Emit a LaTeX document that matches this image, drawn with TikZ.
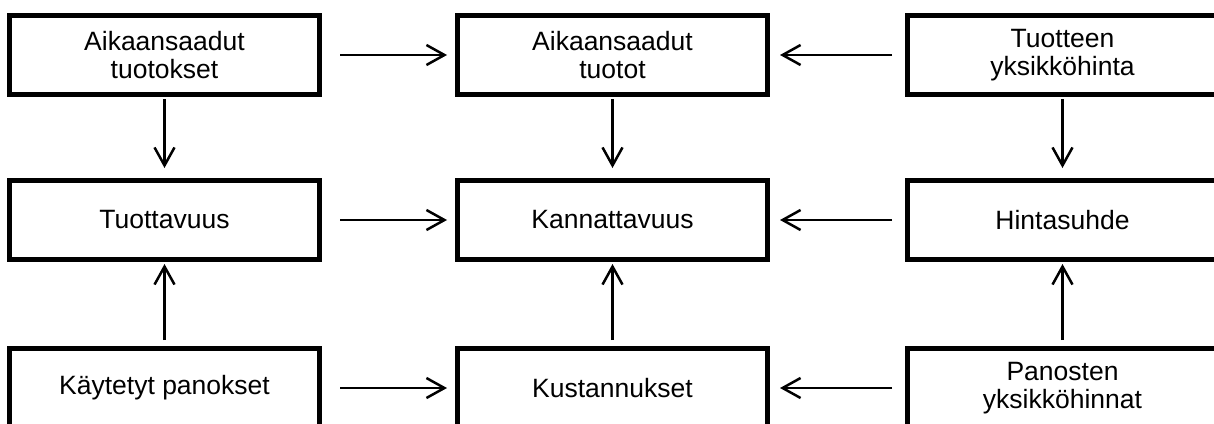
\documentclass[tikz,border=0pt]{standalone}
\usepackage{fontspec}
\setmainfont{Liberation Sans}
\usetikzlibrary{arrows.meta}

\begin{document}
\begin{tikzpicture}[x=1pt, y=-1pt,
  box/.style={draw, line width=5pt, minimum width=310pt, minimum height=79pt,
    inner sep=2pt, align=center, font=\fontsize{26.5}{28.5}\selectfont},
  link/.style={line width=2.5pt, -{Straight Barb[length=18pt,width=20pt]}}]
  \clip (0,0) rectangle (1214,423);

  % top row
  \node[box] (tuotokset) at (164.5,55)  {Aikaansaadut\\tuotokset};
  \node[box] (tuotot)    at (612.5,55)  {Aikaansaadut\\tuotot};
  \node[box] (hinta)     at (1062.5,55) {Tuotteen\\yksikköhinta};

  % middle row
  \node[box] (tuottavuus)   at (164.5,220)  {Tuottavuus};
  \node[box] (kannattavuus) at (612.5,220)  {Kannattavuus};
  \node[box] (hintasuhde)   at (1062.5,220) {Hintasuhde};

  % bottom row (runs off the lower edge)
  \node[box] (panokset)     at (164.5,388)  {Käytetyt panokset};
  \node[box] (kustannukset) at (612.5,388)  {Kustannukset};
  \node[box] (hinnat)       at (1062.5,388) {Panosten\\yksikköhinnat};

  % arrows into the middle column
  \draw[link, shorten <=18pt, shorten >=8pt] (tuotokset) -- (tuotot);
  \draw[link, shorten <=18pt, shorten >=8pt] (tuottavuus) -- (kannattavuus);
  \draw[link, shorten <=18pt, shorten >=8pt] (panokset) -- (kustannukset);
  \draw[link, shorten <=13pt, shorten >=10pt] (hinta) -- (tuotot);
  \draw[link, shorten <=13pt, shorten >=10pt] (hintasuhde) -- (kannattavuus);
  \draw[link, shorten <=13pt, shorten >=10pt] (hinnat) -- (kustannukset);

  % down from the top row
  \draw[link, shorten <=2pt, shorten >=10pt] (tuotokset) -- (tuottavuus);
  \draw[link, shorten <=2pt, shorten >=10pt] (tuotot) -- (kannattavuus);
  \draw[link, shorten <=2pt, shorten >=10pt] (hinta) -- (hintasuhde);

  % up from the bottom row
  \draw[link, shorten <=6pt, shorten >=2pt] (panokset) -- (tuottavuus);
  \draw[link, shorten <=6pt, shorten >=2pt] (kustannukset) -- (kannattavuus);
  \draw[link, shorten <=6pt, shorten >=2pt] (hinnat) -- (hintasuhde);
\end{tikzpicture}
\end{document}
